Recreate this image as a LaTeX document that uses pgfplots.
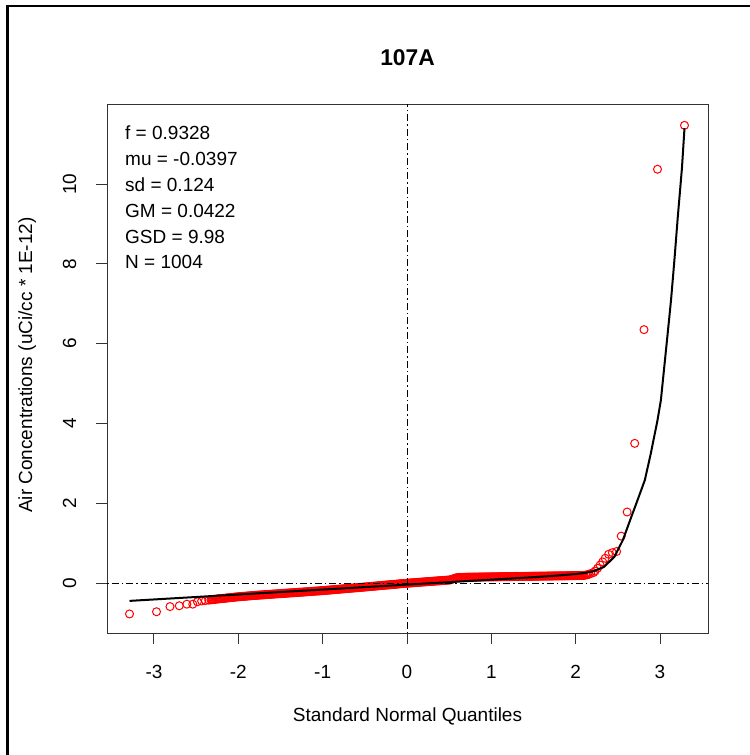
\documentclass[border=0pt]{standalone}
\usepackage{pgfplots}
\pgfplotsset{compat=1.18}
\usepackage{pgfplotstable}
\usepackage{fontspec}
\setmainfont{Liberation Sans}

% Sample quantiles: standard normal quantile vs. concentration
\pgfplotstableread{
q v
-3.29 -0.775
-2.97 -0.72
-2.81 -0.59
-2.70 -0.57
-2.61 -0.53
-2.54 -0.53
-2.485 -0.47
-2.435 -0.45
-2.39 -0.44
-2.35 -0.43
-2.3250 -0.420
-2.3125 -0.418
-2.3000 -0.415
-2.2875 -0.412
-2.2750 -0.410
-2.2625 -0.405
-2.2500 -0.400
-2.2375 -0.398
-2.2250 -0.395
-2.2125 -0.392
-2.2000 -0.390
-2.1875 -0.388
-2.1750 -0.385
-2.1625 -0.383
-2.1500 -0.380
-2.1375 -0.376
-2.1250 -0.373
-2.1125 -0.370
-2.1000 -0.367
-2.0875 -0.365
-2.0750 -0.362
-2.0625 -0.359
-2.0500 -0.356
-2.0375 -0.353
-2.0250 -0.350
-2.0125 -0.348
-2.0000 -0.345
-1.9875 -0.343
-1.9750 -0.341
-1.9625 -0.338
-1.9500 -0.336
-1.9375 -0.334
-1.9250 -0.332
-1.9125 -0.330
-1.9000 -0.328
-1.8875 -0.325
-1.8750 -0.323
-1.8625 -0.321
-1.8500 -0.319
-1.8375 -0.316
-1.8250 -0.314
-1.8125 -0.312
-1.8000 -0.310
-1.7875 -0.308
-1.7750 -0.306
-1.7625 -0.304
-1.7500 -0.302
-1.7375 -0.300
-1.7250 -0.299
-1.7125 -0.297
-1.7000 -0.295
-1.6875 -0.293
-1.6750 -0.291
-1.6625 -0.289
-1.6500 -0.287
-1.6375 -0.285
-1.6250 -0.284
-1.6125 -0.282
-1.6000 -0.280
-1.5875 -0.278
-1.5750 -0.276
-1.5625 -0.274
-1.5500 -0.272
-1.5375 -0.270
-1.5250 -0.269
-1.5125 -0.267
-1.5000 -0.265
-1.4875 -0.263
-1.4750 -0.261
-1.4625 -0.259
-1.4500 -0.258
-1.4375 -0.256
-1.4250 -0.254
-1.4125 -0.252
-1.4000 -0.250
-1.3875 -0.248
-1.3750 -0.247
-1.3625 -0.245
-1.3500 -0.243
-1.3375 -0.241
-1.3250 -0.240
-1.3125 -0.238
-1.3000 -0.236
-1.2875 -0.234
-1.2750 -0.232
-1.2625 -0.230
-1.2500 -0.229
-1.2375 -0.227
-1.2250 -0.225
-1.2125 -0.223
-1.2000 -0.221
-1.1875 -0.219
-1.1750 -0.217
-1.1625 -0.215
-1.1500 -0.213
-1.1375 -0.211
-1.1250 -0.209
-1.1125 -0.207
-1.1000 -0.205
-1.0875 -0.203
-1.0750 -0.202
-1.0625 -0.200
-1.0500 -0.198
-1.0375 -0.196
-1.0250 -0.194
-1.0125 -0.192
-1.0000 -0.190
-0.9875 -0.188
-0.9750 -0.186
-0.9625 -0.183
-0.9500 -0.181
-0.9375 -0.179
-0.9250 -0.177
-0.9125 -0.174
-0.9000 -0.172
-0.8875 -0.170
-0.8750 -0.168
-0.8625 -0.165
-0.8500 -0.163
-0.8375 -0.161
-0.8250 -0.159
-0.8125 -0.156
-0.8000 -0.154
-0.7875 -0.152
-0.7750 -0.150
-0.7625 -0.147
-0.7500 -0.145
-0.7375 -0.143
-0.7250 -0.141
-0.7125 -0.138
-0.7000 -0.136
-0.6875 -0.134
-0.6750 -0.132
-0.6625 -0.129
-0.6500 -0.127
-0.6375 -0.125
-0.6250 -0.123
-0.6125 -0.120
-0.6000 -0.118
-0.5875 -0.116
-0.5750 -0.114
-0.5625 -0.111
-0.5500 -0.109
-0.5375 -0.107
-0.5250 -0.105
-0.5125 -0.102
-0.5000 -0.100
-0.4875 -0.097
-0.4750 -0.095
-0.4625 -0.093
-0.4500 -0.091
-0.4375 -0.088
-0.4250 -0.086
-0.4125 -0.083
-0.4000 -0.081
-0.3875 -0.078
-0.3750 -0.076
-0.3625 -0.074
-0.3500 -0.072
-0.3375 -0.069
-0.3250 -0.067
-0.3125 -0.064
-0.3000 -0.062
-0.2875 -0.059
-0.2750 -0.057
-0.2625 -0.054
-0.2500 -0.052
-0.2375 -0.050
-0.2250 -0.048
-0.2125 -0.045
-0.2000 -0.043
-0.1875 -0.040
-0.1750 -0.038
-0.1625 -0.035
-0.1500 -0.033
-0.1375 -0.031
-0.1250 -0.029
-0.1125 -0.026
-0.1000 -0.024
-0.0875 -0.021
-0.0750 -0.019
-0.0625 -0.016
-0.0500 -0.014
-0.0375 -0.012
-0.0250 -0.010
-0.0125 -0.007
0.0000 -0.005
0.0125 -0.003
0.0250 -0.001
0.0375 0.001
0.0500 0.003
0.0625 0.005
0.0750 0.007
0.0875 0.009
0.1000 0.011
0.1125 0.013
0.1250 0.015
0.1375 0.017
0.1500 0.019
0.1625 0.021
0.1750 0.023
0.1875 0.025
0.2000 0.027
0.2125 0.029
0.2250 0.031
0.2375 0.033
0.2500 0.035
0.2625 0.037
0.2750 0.039
0.2875 0.041
0.3000 0.043
0.3125 0.045
0.3250 0.047
0.3375 0.049
0.3500 0.051
0.3625 0.053
0.3750 0.055
0.3875 0.057
0.4000 0.059
0.4125 0.061
0.4250 0.063
0.4375 0.065
0.4500 0.067
0.4625 0.069
0.4750 0.071
0.4875 0.073
0.5000 0.075
0.5125 0.080
0.5250 0.085
0.5375 0.095
0.5500 0.105
0.5625 0.115
0.5750 0.125
0.5875 0.130
0.6000 0.135
0.6125 0.137
0.6250 0.138
0.6375 0.139
0.6500 0.140
0.6625 0.141
0.6750 0.142
0.6875 0.143
0.7000 0.144
0.7125 0.145
0.7250 0.145
0.7375 0.146
0.7500 0.146
0.7625 0.147
0.7750 0.147
0.7875 0.148
0.8000 0.148
0.8125 0.148
0.8250 0.148
0.8375 0.149
0.8500 0.149
0.8625 0.150
0.8750 0.150
0.8875 0.151
0.9000 0.151
0.9125 0.152
0.9250 0.152
0.9375 0.152
0.9500 0.152
0.9625 0.153
0.9750 0.153
0.9875 0.154
1.0000 0.154
1.0125 0.155
1.0250 0.155
1.0375 0.156
1.0500 0.156
1.0625 0.156
1.0750 0.156
1.0875 0.157
1.1000 0.157
1.1125 0.158
1.1250 0.158
1.1375 0.159
1.1500 0.159
1.1625 0.160
1.1750 0.160
1.1875 0.160
1.2000 0.160
1.2125 0.161
1.2250 0.161
1.2375 0.162
1.2500 0.162
1.2625 0.163
1.2750 0.163
1.2875 0.164
1.3000 0.164
1.3125 0.164
1.3250 0.164
1.3375 0.165
1.3500 0.165
1.3625 0.166
1.3750 0.166
1.3875 0.167
1.4000 0.167
1.4125 0.167
1.4250 0.167
1.4375 0.168
1.4500 0.168
1.4625 0.169
1.4750 0.169
1.4875 0.170
1.5000 0.170
1.5125 0.170
1.5250 0.170
1.5375 0.171
1.5500 0.171
1.5625 0.172
1.5750 0.172
1.5875 0.173
1.6000 0.173
1.6125 0.173
1.6250 0.173
1.6375 0.174
1.6500 0.174
1.6625 0.175
1.6750 0.175
1.6875 0.176
1.7000 0.176
1.7125 0.176
1.7250 0.176
1.7375 0.177
1.7500 0.177
1.7625 0.178
1.7750 0.178
1.7875 0.179
1.8000 0.179
1.8125 0.180
1.8250 0.180
1.8375 0.180
1.8500 0.180
1.8625 0.181
1.8750 0.181
1.8875 0.182
1.9000 0.182
1.9125 0.183
1.9250 0.183
1.9375 0.184
1.9500 0.184
1.9625 0.185
1.9750 0.185
1.9875 0.186
2.0000 0.186
2.0125 0.187
2.0250 0.187
2.0375 0.188
2.0500 0.188
2.0625 0.189
2.0750 0.189
2.0875 0.190
2.10 0.19
2.12 0.20
2.14 0.21
2.16 0.22
2.18 0.24
2.21 0.26
2.23 0.30
2.26 0.37
2.29 0.45
2.32 0.53
2.35 0.62
2.39 0.72
2.435 0.76
2.485 0.79
2.54 1.175
2.61 1.78
2.70 3.50
2.81 6.35
2.97 10.37
3.29 11.47
}\samples

% Fitted mixture quantile curve
\pgfplotstableread{
q v
-3.29 -0.448
-2.00 -0.288
-1.00 -0.164
0.00 -0.040
1.00 0.084
1.50 0.146
1.80 0.190
2.00 0.225
2.10 0.250
2.22 0.300
2.34 0.410
2.46 0.660
2.56 1.080
2.66 1.660
2.72 2.000
2.82 2.580
2.89 3.240
2.97 4.080
3.01 4.580
3.05 5.410
3.09 6.240
3.13 7.080
3.17 8.080
3.21 9.160
3.26 10.400
3.29 11.400
}\fitline

\begin{document}
\begin{tikzpicture}[x=1bp,y=1bp]
\useasboundingbox (0,0) rectangle (750,-755);
\draw[line width=2.5bp] (7.5,-6) rectangle (800,-800);

\begin{axis}[
  at={(107bp,-633bp)}, anchor=south west,
  scale only axis, width=601bp, height=529bp,
  xmin=-3.557, xmax=3.569, ymin=-1.253, ymax=12.005,
  clip mode=individual,
  axis line style={black!80, line width=1bp},
  xtick={-3,-2,-1,0,1,2,3},
  xticklabels={-3,-2,-1,0,1,2,3},
  ytick={0,2,4,6,8,10},
  yticklabels={0,2,4,6,8,10},
  xtick pos=lower, ytick pos=left,
  tick align=outside, major tick length=11bp,
  tick style={black!80, line width=1bp},
  tick label style={font=\fontsize{19bp}{23bp}\selectfont, inner sep=0pt},
  xticklabel style={anchor=base, yshift=-34bp},
  yticklabel style={rotate=90, anchor=base, yshift=20bp},
]
\addplot[only marks, mark=o, mark size=4bp, red,
  mark options={line width=1bp}] table[x=q, y=v] {\samples};
\addplot[black, line width=2bp, no marks] table[x=q, y=v] {\fitline};
\addplot[black, line width=1bp, dash pattern=on 1.5bp off 3bp on 7bp off 3bp, no marks]
  coordinates {(0,-1.253) (0,12.005)};
\addplot[black, line width=1bp, dash pattern=on 1.5bp off 3bp on 7bp off 3bp, no marks]
  coordinates {(-3.557,0) (3.569,0)};
\end{axis}

\node[anchor=base, font=\fontsize{22.8bp}{27bp}\selectfont\bfseries] at (407.5,-66) {107A};
\node[anchor=base, font=\fontsize{19bp}{23bp}\selectfont] at (407.5,-721) {Standard Normal Quantiles};
\node[anchor=base, rotate=90, font=\fontsize{19bp}{23bp}\selectfont] at (32,-365) {Air Concentrations (uCi/cc * 1E-12)};

\begin{scope}[every node/.style={anchor=base west, inner sep=0pt, font=\fontsize{19bp}{23bp}\selectfont}]
\node at (125,-139) {f = 0.9328};
\node at (125,-165) {mu = -0.0397};
\node at (125,-191) {sd = 0.124};
\node at (125,-217.5) {GM = 0.0422};
\node at (125,-243.5) {GSD = 9.98};
\node at (125,-268.5) {N = 1004};
\end{scope}
\end{tikzpicture}
\end{document}
